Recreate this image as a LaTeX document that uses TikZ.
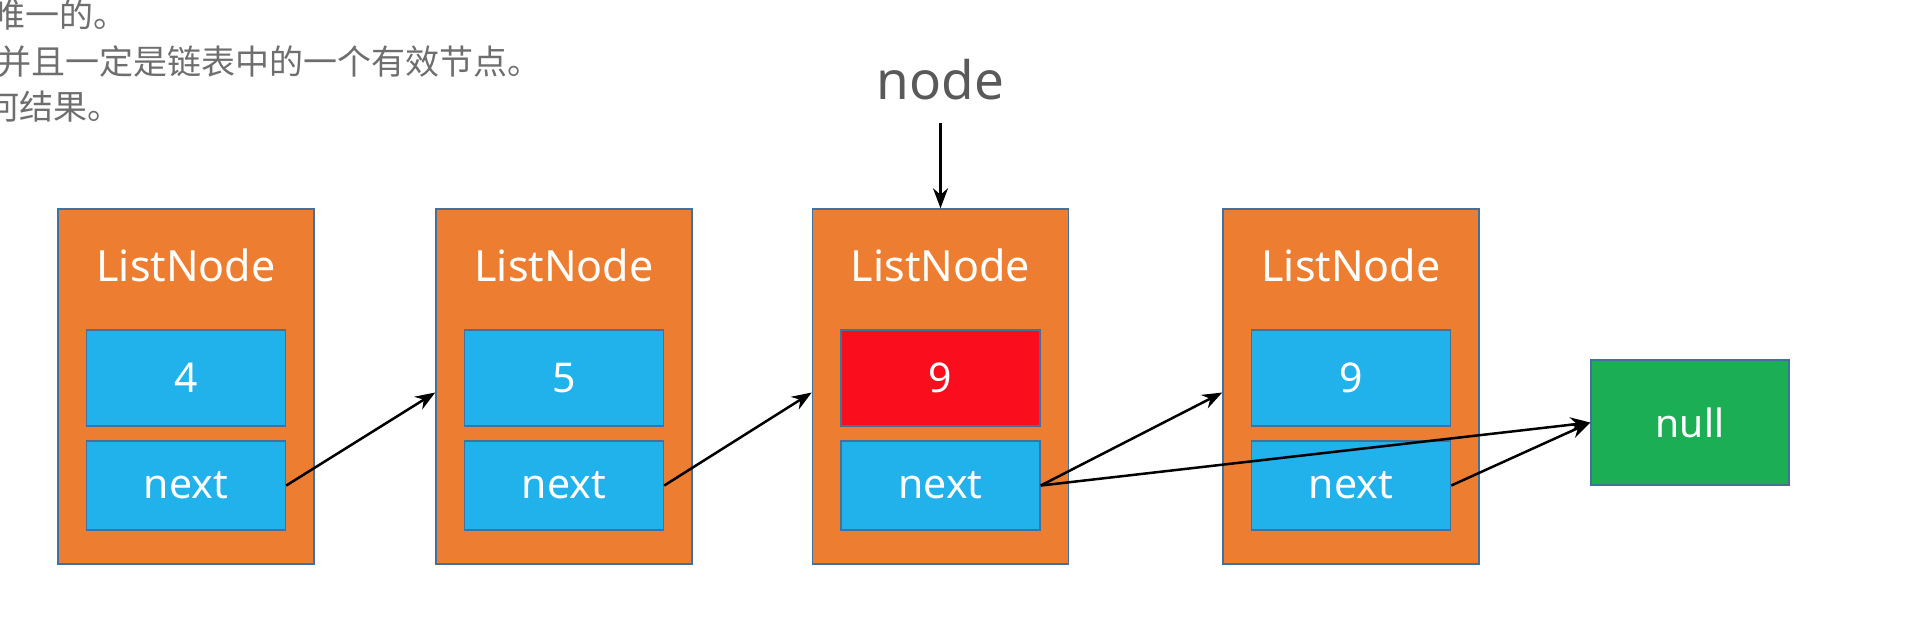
\documentclass[tikz,border=0pt]{standalone}
\usepackage{fontspec}
\setmainfont{Noto Sans}
\newfontfamily\cjkfont{Noto Sans CJK SC}
\usetikzlibrary{arrows.meta,positioning}
\definecolor{boxorange}{HTML}{ED7D31}
\definecolor{fieldblue}{HTML}{21B1EB}
\definecolor{fieldred}{HTML}{FA0E1E}
\definecolor{nullgreen}{HTML}{1BAE54}
\definecolor{edgeblue}{HTML}{41719C}
\definecolor{labelgrey}{HTML}{595959}
\definecolor{notegrey}{HTML}{6E6E6E}

\begin{document}
\begin{tikzpicture}[x=1pt,y=-1pt,
   every node/.style={inner sep=0pt},
   listbox/.style={draw=edgeblue,line width=1.5pt,fill=boxorange,
      minimum width=256pt,minimum height=355pt},
   field/.style={draw=edgeblue,line width=1.5pt,fill=fieldblue,text=white,
      minimum width=199pt,font=\fontsize{41}{43}\selectfont},
   title/.style={text=white,font=\fontsize{43}{45}\selectfont},
   note/.style={anchor=west,text=notegrey,font=\cjkfont\fontsize{34}{36}\selectfont},
   ptr/.style={-{Stealth[length=20pt,width=15pt]},line width=2.5pt}]
\clip (0,0) rectangle (1932,622);

\node[note] (line1) at (-9,15) {唯一的。};
\node[note] (line2) at (-3,62) {并且一定是链表中的一个有效节点。};
\node[note] (line3) at (-15,107) {何结果。};

\node[listbox] (b1) at (186,386.5) {};
\node[listbox] (b2) at (564,386.5) {};
\node[listbox] (b3) at (940.5,386.5) {};
\node[listbox] (b4) at (1351,386.5) {};

\node[title] at (186,265) {ListNode};
\node[title] at (564,265) {ListNode};
\node[title] at (940.5,265) {ListNode};
\node[title] at (1351,265) {ListNode};

\node[field,minimum height=96pt] (v1) at (186,378) {4};
\node[field,minimum height=96pt] (v2) at (564,378) {5};
\node[field,minimum height=96pt,fill=fieldred] (v3) at (940.5,378) {9};
\node[field,minimum height=96pt] (v4) at (1351,378) {9};

\node[field,minimum height=89pt] (n1) at (186,485.5) {next};
\node[field,minimum height=89pt] (n2) at (564,485.5) {next};
\node[field,minimum height=89pt] (n3) at (940.5,485.5) {next};
\node[field,minimum height=89pt] (n4) at (1351,485.5) {next};

\node[field,fill=nullgreen,minimum width=198pt,minimum height=125pt,
   font=\fontsize{39}{41}\selectfont] (null) at (1690,422.5) {null};

\node[text=labelgrey,inner ysep=22pt,font=\fontsize{53}{55}\selectfont] (ptrlabel) at (940.5,80) {node};
\draw[ptr] (ptrlabel) -- (b3);

\draw[ptr] (n1.east) -- ([yshift=-6pt]b2.west);
\draw[ptr] (n2.east) -- ([yshift=-6pt]b3.west);
\draw[ptr] (n3.east) -- ([yshift=-6pt]b4.west);
\draw[ptr] (n3.east) -- (null.west);
\draw[ptr] (n4.east) -- (null.west);
\end{tikzpicture}
\end{document}
